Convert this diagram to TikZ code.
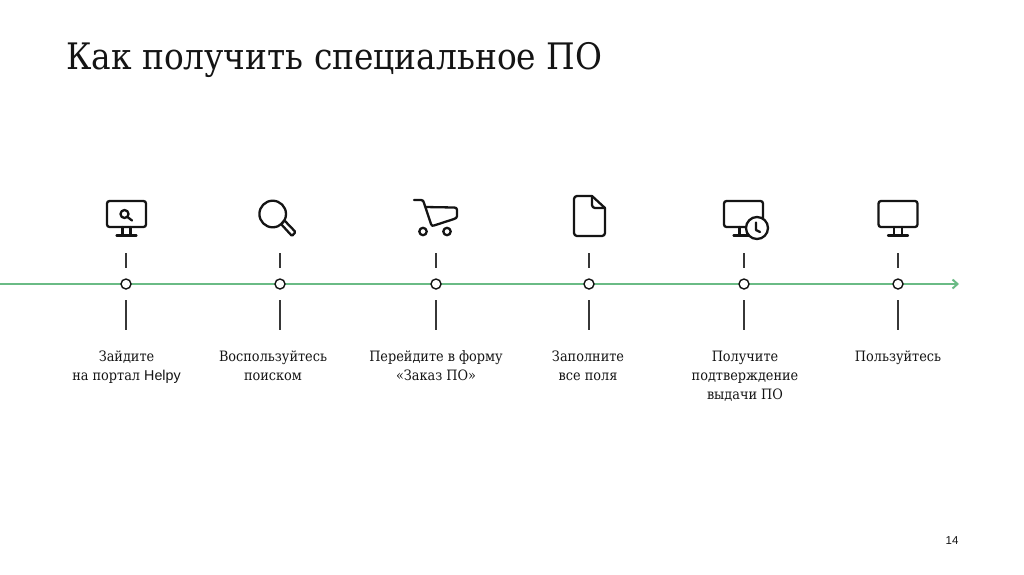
\documentclass[tikz,border=0pt]{standalone}
\usepackage{fontspec}
\setmainfont{DejaVu Serif Condensed}
\setsansfont{Liberation Sans}
\usepackage{tikz}
\usetikzlibrary{arrows.meta}
\definecolor{G}{RGB}{106,187,133}
\definecolor{K}{RGB}{20,20,20}
\newcommand{\drawicon}{\draw[line width=2.3pt,color=K,line cap=round,line join=round]}
\newcommand{\screen}[1]{
    \drawicon[rounded corners=2.5pt] (#1-19.5,201) rectangle (#1+19.5,227);
    \drawicon (#1-4,227)--(#1-4,235) (#1+4,227)--(#1+4,235);
    \drawicon (#1-10,235.5)--(#1+10,235.5);
}
\tikzset{
  stopdot/.style={circle,draw=K,fill=white,line width=1.4pt,minimum size=10pt,inner sep=0pt},
  tick/.style={color=K!85,line width=1.2pt},
  steptext/.style={anchor=north,align=center,font=\fontsize{14.3}{19}\selectfont,inner sep=0pt,color=K},
}
\begin{document}
\begin{tikzpicture}[x=1pt,y=-1pt]
\useasboundingbox (0,0) rectangle (1024,574);
\node[anchor=base west,inner sep=0pt,font=\fontsize{36.5}{40}\selectfont,color=K] (title) at (66,69) {Как получить специальное ПО};
\node[inner sep=0pt,font=\sffamily\fontsize{11.5}{13}\selectfont,color=K] (pagenum) at (952,541) {14};
\coordinate (linestart) at (0,284);
\coordinate (lineend) at (959,284);
\draw[G,line width=2pt,-{Straight Barb[length=5pt,width=9pt]}] (linestart)--(lineend);
% stops on the line
\foreach \n/\x in {1/126,2/280,3/436,4/589,5/744,6/898}{
    \node[stopdot] (stop\n) at (\x,284) {};
    \coordinate (upa\n) at (\x,253);
    \coordinate (upb\n) at (\x,268);
    \coordinate (downa\n) at (\x,300);
    \coordinate (downb\n) at (\x,330);
    \draw[tick] (upa\n)--(upb\n);
    \draw[tick] (downa\n)--(downb\n);
}
% texts
\node[steptext] (text1) at (126.5,351) {Зайдите\\на портал {\sffamily Helpy}};
\node[steptext] (text2) at (273,351) {Воспользуйтесь\\поиском};
\node[steptext] (text3) at (436,350) {Перейдите в форму\\«Заказ ПО»};
\node[steptext] (text4) at (588,351) {Заполните\\все поля};
\node[steptext] (text5) at (745,351) {Получите\\подтверждение\\выдачи ПО};
\node[steptext] (text6) at (898,351) {Пользуйтесь};
% icons
\screen{126.5}
\drawicon (124.5,214) circle (4);
\drawicon (127.5,217)--(132,220.5);
\drawicon (272.7,214) circle (13.3);
\drawicon[rounded corners=1pt] (281,224)--(284.5,220.5)--(295.5,232)--(292,236)--cycle;
\drawicon (414,200)--(421,200)..controls (423,200) and (423.5,201) .. (424,203)--(431,224)
   ..controls (431.5,226) and (432.5,226) .. (434,225.5)--(454,219)..controls (456,218.5) and (457,217.5) .. (457,216)
   --(457,210)..controls (457,208) and (456,207.5) .. (454,207.5)--(425,207);
\drawicon (423,231.5) circle (3.7);
\drawicon (447,231.5) circle (3.7);
\drawicon[rounded corners=3pt] (592,196)--(574,196)--(574,236)--(605,236)--(605,208);
\drawicon (592,196)--(605,208);
\drawicon[rounded corners=3pt] (592,196)--(592,208)--(605,208);
\screen{743.5}
\drawicon[fill=white] (757,228) circle (11);
\drawicon (756,222.5)--(756,230)--(760,232);
\screen{898}
\end{tikzpicture}
\end{document}
